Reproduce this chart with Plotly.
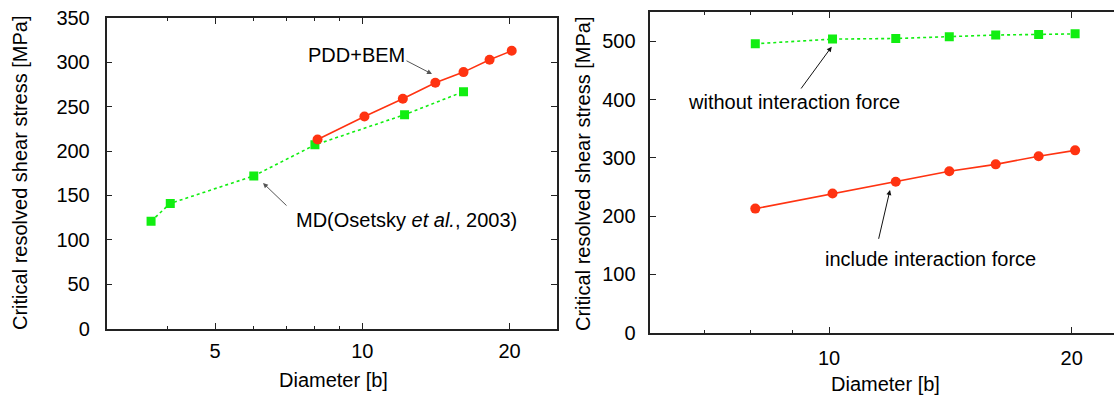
import plotly.graph_objects as go

# ---- data ----
pdd_d = [8.1, 10.1, 12.1, 14.1, 16.1, 18.2, 20.2]
pdd_tau = [213, 239, 259, 277, 289, 303, 313]

md_d = [3.7, 4.05, 6.0, 8.0, 12.2, 16.1]
md_tau = [121, 141, 172, 207, 241, 267]

with_d = [8.1, 10.1, 12.1, 14.1, 16.1, 18.2, 20.2]
with_tau = [213, 239, 259, 277, 289, 303, 313]
without_d = [8.1, 10.1, 12.1, 14.1, 16.1, 18.2, 20.2]
without_tau = [496, 504, 505, 508, 511, 512, 513]

left_xticks = [5, 10, 20]
left_xminor = [4, 6, 7, 8, 9]
right_xticks = [10, 20]
right_xminor = [7, 8, 9]
left_yticks = [0, 50, 100, 150, 200, 250, 300, 350]
right_yticks = [0, 100, 200, 300, 400, 500]

RED = "#ff3311"
GREEN = "#11ee11"
FONT = "Liberation Sans, Arial, Helvetica, sans-serif"
W, H = 1114, 396


def px(x):
    return x / W


def py(y):
    return 1 - y / H


fig = go.Figure()

fig.add_trace(go.Scatter(x=md_d, y=md_tau, mode="lines+markers",
                         line=dict(color=GREEN, width=1.6, dash="dot"),
                         marker=dict(symbol="square", size=9, color=GREEN),
                         xaxis="x", yaxis="y", showlegend=False))
fig.add_trace(go.Scatter(x=pdd_d, y=pdd_tau, mode="lines+markers",
                         line=dict(color=RED, width=1.6),
                         marker=dict(symbol="circle", size=10, color=RED),
                         xaxis="x", yaxis="y", showlegend=False))
fig.add_trace(go.Scatter(x=without_d, y=without_tau, mode="lines+markers",
                         line=dict(color=GREEN, width=1.6, dash="dot"),
                         marker=dict(symbol="square", size=9, color=GREEN),
                         xaxis="x2", yaxis="y2", showlegend=False))
fig.add_trace(go.Scatter(x=with_d, y=with_tau, mode="lines+markers",
                         line=dict(color=RED, width=1.6),
                         marker=dict(symbol="circle", size=10, color=RED),
                         xaxis="x2", yaxis="y2", showlegend=False))

axis_common = dict(showgrid=False, zeroline=False, showline=True,
                   linecolor="#222", linewidth=1.5, ticks="inside",
                   tickcolor="#222", tickwidth=1, automargin=False,
                   tickfont=dict(family=FONT, size=20, color="black"))

fig.update_layout(
    xaxis=dict(axis_common, type="log", domain=[px(106.5), px(557)],
               range=[0.4771, 1.3979], anchor="y", mirror="allticks",
               tickmode="array", tickvals=left_xticks, ticklen=6,
               ticklabelstandoff=4,
               minor=dict(tickmode="array", tickvals=left_xminor,
                          ticks="inside", ticklen=3, tickcolor="#222")),
    yaxis=dict(axis_common, domain=[py(328.5), py(18)], range=[0, 350],
               anchor="x", mirror="allticks", tickmode="array",
               tickvals=left_yticks, ticklen=6, ticklabelstandoff=11),
    xaxis2=dict(axis_common, type="log", domain=[px(650.3), 1.0],
                range=[0.7782, 1.3536], anchor="y2", mirror="allticks",
                tickmode="array", tickvals=right_xticks, ticklen=6,
                ticklabelstandoff=7,
                minor=dict(tickmode="array", tickvals=right_xminor,
                           ticks="inside", ticklen=3, tickcolor="#222")),
    yaxis2=dict(axis_common, domain=[py(332.7), py(12.3)], range=[0, 550],
                anchor="x2", mirror=False, tickmode="array",
                tickvals=right_yticks, ticklen=6, ticklabelstandoff=9),
)

ann = []
# axis titles
ann.append(dict(text="Critical resolved shear stress [MPa]", x=px(20), y=py(173),
                textangle=-90))
ann.append(dict(text="Diameter [b]", x=px(333), y=py(380)))
ann.append(dict(text="Critical resolved shear stress [MPa]", x=px(583), y=py(174),
                textangle=-90))
ann.append(dict(text="Diameter [b]", x=px(885), y=py(384)))
# labels
ann.append(dict(text="PDD+BEM", x=px(356.5), y=py(55)))
ann.append(dict(text="MD(Osetsky <i>et al.</i>, 2003)", x=px(406), y=py(220)))
ann.append(dict(text="without interaction force", x=px(793.5), y=py(101.7)))
ann.append(dict(text="include interaction force", x=px(930), y=py(259.3)))

annotations = []
for a in ann:
    d = dict(xref="paper", yref="paper", showarrow=False,
             xanchor="center", yanchor="middle",
             font=dict(family=FONT, size=20, color="black"))
    d.update(a)
    annotations.append(d)

# arrows: (tail, head) in pixels
arrows = [((405, 60), (432, 74), "#555"),
          ((288, 207), (263, 183), "#555"),
          ((800, 90), (831.7, 46.7), "#111"),
          ((878.3, 240.3), (890, 190), "#111")]
for (tx, ty), (hx, hy), col in arrows:
    annotations.append(dict(xref="paper", yref="paper", x=px(hx), y=py(hy),
                            ax=tx - hx, ay=ty - hy, text="", showarrow=True,
                            arrowhead=2, arrowsize=1, arrowwidth=1,
                            arrowcolor=col, standoff=0, startstandoff=0))

fig.update_layout(annotations=annotations, width=W, height=H,
                  margin=dict(l=0, r=0, t=0, b=0, pad=0),
                  plot_bgcolor="white", paper_bgcolor="white",
                  font=dict(family=FONT, size=20, color="black"))

fig.write_html("out.html",
               config={"displayModeBar": False},
               post_script="document.body.style.margin='0';"
                           "document.body.style.overflow='hidden';")
